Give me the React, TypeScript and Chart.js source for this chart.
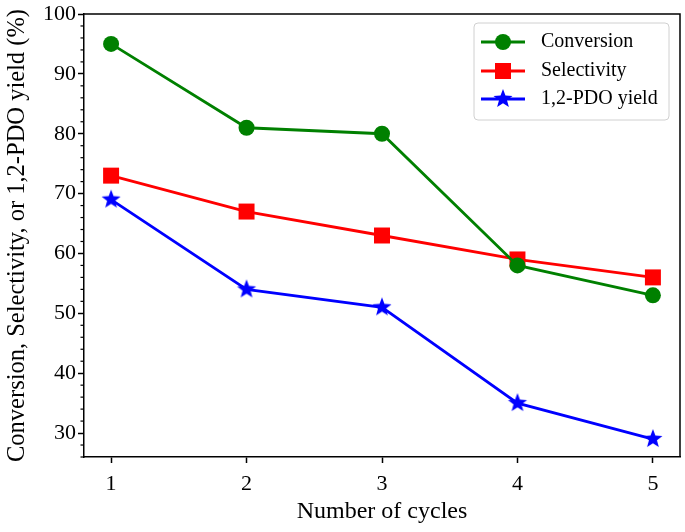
import React, { useEffect, useRef } from "react";
import { Chart, registerables } from "chart.js";

Chart.register(...registerables);

const cycles = [1, 2, 3, 4, 5];
const conversion = [95, 81, 80, 58, 53];
const selectivity = [73, 67, 63, 59, 56];
const pdoYield = [69, 54, 51, 35, 29];
const seriesLabels = ["Conversion", "Selectivity", "1,2-PDO yield"];
const seriesColors = ["#008000", "#ff0000", "#0000ff"];
const yMajorTicks = [30, 40, 50, 60, 70, 80, 90, 100];

const FONT = "'Liberation Serif', 'Times New Roman', serif";

function makeStar(outer: number, color: string): HTMLCanvasElement {
  const size = Math.ceil(outer * 2 + 2);
  const c = document.createElement("canvas");
  c.width = size;
  c.height = size;
  const ctx = c.getContext("2d")!;
  const cx = size / 2;
  const cy = size / 2;
  const inner = outer * 0.42;
  ctx.beginPath();
  for (let i = 0; i < 10; i++) {
    const r = i % 2 === 0 ? outer : inner;
    const a = -Math.PI / 2 + (i * Math.PI) / 5;
    const x = cx + r * Math.cos(a);
    const y = cy + r * Math.sin(a);
    if (i === 0) ctx.moveTo(x, y);
    else ctx.lineTo(x, y);
  }
  ctx.closePath();
  ctx.fillStyle = color;
  ctx.fill();
  return c;
}

const zeroPadding = () => ({ left: 0, top: 0, right: 0, bottom: 0 });

export default function App() {
  const ref = useRef<HTMLCanvasElement | null>(null);

  useEffect(() => {
    if (!ref.current) return;
    const star = makeStar(10, seriesColors[2]);
    const styles: any[] = ["circle", "rect", star];
    const radii = [8, 11.3, 10];
    const values = [conversion, selectivity, pdoYield];

    const extras = {
      id: "extras",
      afterDraw(chart: any) {
        const ctx = chart.ctx;
        const area = chart.chartArea;
        const y = chart.scales.y;
        ctx.save();
        // minor ticks
        ctx.strokeStyle = "#000";
        ctx.lineWidth = 1.2;
        for (let v = 26; v <= 100; v += 2) {
          if (v % 10 === 0) continue;
          const py = y.getPixelForValue(v);
          ctx.beginPath();
          ctx.moveTo(area.left - 3.5, py);
          ctx.lineTo(area.left, py);
          ctx.stroke();
        }
        // frame top/right
        ctx.lineWidth = 1.5;
        ctx.beginPath();
        ctx.moveTo(area.left, area.top);
        ctx.lineTo(area.right, area.top);
        ctx.lineTo(area.right, area.bottom);
        ctx.stroke();

        // legend
        const lx = 474, ly = 23, lw = 195, lh = 97;
        ctx.fillStyle = "rgba(255,255,255,0.8)";
        ctx.strokeStyle = "#d0d0d0";
        ctx.lineWidth = 1;
        ctx.beginPath();
        (ctx as any).roundRect(lx, ly, lw, lh, 4);
        ctx.fill();
        ctx.stroke();
        const rows = [42, 71, 99];
        rows.forEach((ry, i) => {
          ctx.strokeStyle = seriesColors[i];
          ctx.lineWidth = 2.8;
          ctx.beginPath();
          ctx.moveTo(481, ry);
          ctx.lineTo(525, ry);
          ctx.stroke();
          ctx.fillStyle = seriesColors[i];
          if (i === 0) {
            ctx.beginPath();
            ctx.arc(503, ry, 8, 0, Math.PI * 2);
            ctx.fill();
          } else if (i === 1) {
            ctx.fillRect(503 - 8, ry - 8, 16, 16);
          } else {
            ctx.drawImage(star, 503 - star.width / 2, ry - star.height / 2);
          }
          ctx.fillStyle = "#000";
          ctx.font = `20px ${FONT}`;
          ctx.textBaseline = "middle";
          ctx.textAlign = "left";
          ctx.fillText(seriesLabels[i], 541, ry);
        });
        ctx.restore();
      },
    };

    const chart = new Chart(ref.current, {
      type: "line",
      data: {
        datasets: values.map((vals, i) => ({
          label: seriesLabels[i],
          data: cycles.map((c, j) => ({ x: c, y: vals[j] })),
          borderColor: seriesColors[i],
          backgroundColor: seriesColors[i],
          borderWidth: 2.8,
          pointStyle: styles[i],
          pointRadius: radii[i],
          pointHoverRadius: radii[i],
          pointBorderWidth: 0,
          tension: 0,
          clip: false,
        })),
      },
      options: {
        responsive: false,
        animation: false,
        layout: { autoPadding: false, padding: { top: 14, right: 5, left: 0, bottom: 0 } },
        plugins: { legend: { display: false }, tooltip: { enabled: false } },
        scales: {
          x: {
            type: "linear",
            min: 0.8,
            max: 5.2,
            afterBuildTicks: (s: any) => {
              s.ticks = cycles.map((v) => ({ value: v }));
            },
            afterFit: (s: any) => {
              s.height = 75;
              s.getPadding = zeroPadding;
            },
            ticks: {
              color: "#000",
              font: { family: FONT, size: 22 },
              padding: 8,
              maxRotation: 0,
            },
            grid: {
              drawOnChartArea: false,
              drawTicks: true,
              tickLength: 6,
              tickWidth: 1.5,
              tickColor: "#000",
            },
            border: { display: true, color: "#000", width: 1.5 },
            title: {
              display: true,
              text: "Number of cycles",
              color: "#000",
              font: { family: FONT, size: 24 },
              padding: { top: 0, bottom: 6 },
            },
          },
          y: {
            min: 26,
            max: 100,
            afterBuildTicks: (s: any) => {
              s.ticks = yMajorTicks.map((v) => ({ value: v }));
            },
            afterFit: (s: any) => {
              s.width = 84;
              s.getPadding = zeroPadding;
            },
            ticks: {
              color: "#000",
              font: { family: FONT, size: 22 },
              padding: 2,
            },
            grid: {
              drawOnChartArea: false,
              drawTicks: true,
              tickLength: 6,
              tickWidth: 1.5,
              tickColor: "#000",
            },
            border: { display: true, color: "#000", width: 1.5 },
            title: {
              display: true,
              text: "Conversion, Selectivity, or 1,2-PDO yield (%)",
              color: "#000",
              font: { family: FONT, size: 24.5 },
              padding: { top: 3, bottom: 0 },
            },
          },
        },
      },
      plugins: [extras],
    });
    return () => chart.destroy();
  }, []);

  return (
    <div style={{ position: "absolute", left: 0, top: 0, width: 685, height: 532, background: "#fff" }}>
      <canvas ref={ref} width={685} height={532} />
    </div>
  );
}
